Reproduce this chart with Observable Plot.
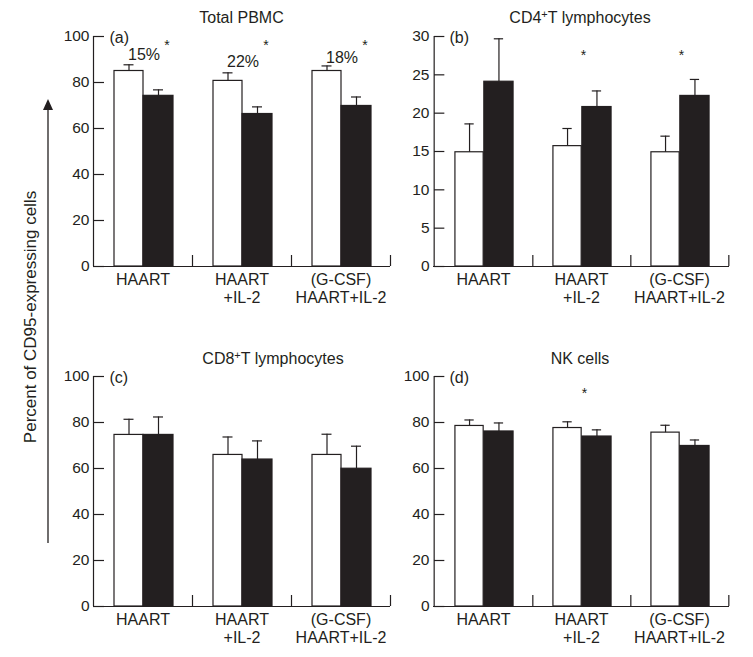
<!DOCTYPE html>
<html><head><meta charset="utf-8">
<script src="https://cdn.jsdelivr.net/npm/d3@7"></script>
<script src="https://cdn.jsdelivr.net/npm/@observablehq/plot@0.6"></script>
<style>
body{margin:0;background:#fff;overflow:hidden;font-family:"Liberation Sans",Arial,sans-serif;color:#231f20}
#root{position:relative;width:753px;height:657px;overflow:hidden}
.p{position:absolute}
.t{position:absolute;font-size:16px;white-space:nowrap;transform:translate(-50%,-50%);line-height:1}
.t sup{font-size:11px;line-height:0;vertical-align:5px}
.ylab{position:absolute;left:31px;top:317px;font-size:17px;white-space:nowrap;transform:translate(-50%,-50%) rotate(-90deg)}
</style></head>
<body><div id="root"></div>
<script>
const ink = "#231f20";
const categories = ["HAART", "HAART\n+IL-2", "(G-CSF)\nHAART+IL-2"];

// (a) Total PBMC
const pbmcWhite = [85.0, 80.7, 85.0];
const pbmcWhiteErr = [87.7, 84.2, 87.2];
const pbmcBlack = [74.2, 66.3, 69.8];
const pbmcBlackErr = [76.8, 69.4, 73.7];
const pbmcPercent = ["15%", "22%", "18%"];
const pbmcPercentY = [91.8, 88.9, 90.9];
const pbmcStarCats = ["HAART", "HAART\n+IL-2", "(G-CSF)\nHAART+IL-2"];
const pbmcStarY = [96, 96, 96];

// (b) CD4+ T lymphocytes
const cd4White = [14.9, 15.7, 14.9];
const cd4WhiteErr = [18.6, 18.0, 17.0];
const cd4Black = [24.1, 20.8, 22.25];
const cd4BlackErr = [29.7, 22.9, 24.4];
const cd4StarCats = ["HAART\n+IL-2", "(G-CSF)\nHAART+IL-2"];
const cd4StarY = [27.5, 27.5];

// (c) CD8+ T lymphocytes
const cd8White = [74.6, 65.9, 65.9];
const cd8WhiteErr = [81.4, 73.7, 74.9];
const cd8Black = [74.6, 63.9, 59.9];
const cd8BlackErr = [82.4, 72.0, 69.7];

// (d) NK cells
const nkWhite = [78.5, 77.6, 75.6];
const nkWhiteErr = [81.1, 80.3, 78.8];
const nkBlack = [76.1, 73.9, 69.8];
const nkBlackErr = [79.8, 76.8, 72.4];
const nkStarCats = ["HAART\n+IL-2"];
const nkStarY = [92.6];

const ticks100 = [0, 20, 40, 60, 80, 100];
const ticks30 = [0, 5, 10, 15, 20, 25, 30];

const root = document.getElementById("root");

function panel({left, top, width, height, mL, mR, mB, mT, ymax, yTicks, white, whiteErr, black, blackErr, tag, pct, pctY, starCats, starY, starDx}) {
  const bw = (width - mL - mR) / categories.length;
  const s = bw / 99;
  const rows = categories.map((c, i) => ({c, w: white[i], we: whiteErr[i], b: black[i], be: blackErr[i]}));
  const plotH = height - mT - mB;
  const marks = [
    Plot.barY(rows, {x: "c", y: "w", fill: "white", stroke: ink, strokeWidth: 1.2, insetLeft: 21 * s, insetRight: bw - 50 * s}),
    Plot.barY(rows, {x: "c", y: "b", fill: ink, stroke: ink, strokeWidth: 1.2, insetLeft: 50 * s, insetRight: bw - 80 * s}),
    Plot.ruleX(rows, {x: "c", y1: "w", y2: "we", dx: 35.5 * s - bw / 2, stroke: ink, strokeWidth: 1.2}),
    Plot.ruleX(rows, {x: "c", y1: "b", y2: "be", dx: 65 * s - bw / 2, stroke: ink, strokeWidth: 1.2}),
    Plot.tickY(rows, {x: "c", y: "we", insetLeft: 30.5 * s, insetRight: bw - 40.5 * s, stroke: ink, strokeWidth: 1.2}),
    Plot.tickY(rows, {x: "c", y: "be", insetLeft: 60 * s, insetRight: bw - 70 * s, stroke: ink, strokeWidth: 1.2}),
    // axis lines
    Plot.ruleY([0], {stroke: ink, strokeWidth: 1.2}),
    Plot.ruleX([categories[0]], {x: d => d, dx: -bw / 2, y1: 0, y2: ymax, stroke: ink, strokeWidth: 1.2}),
    Plot.ruleX(categories, {x: d => d, dx: bw / 2, y1: 0, y2: ymax * 11 / plotH, stroke: ink, strokeWidth: 1.2}),
    Plot.tickY(yTicks, {x: () => categories[0], y: d => d, insetRight: bw - 11, stroke: ink, strokeWidth: 1.2}),
    Plot.axisY(yTicks, {tickSize: 0, tickPadding: 4, fontSize: 15.5, fill: ink, label: null}),
    Plot.axisX({tickSize: 0, tickPadding: 6, fontSize: 16, lineHeight: 1.12, fill: ink, label: null}),
    Plot.text([tag], {frameAnchor: "top-left", dx: 16, dy: 1, textAnchor: "start", lineAnchor: "middle", fontSize: 16, fill: ink})
  ];
  if (pct) {
    marks.push(Plot.text(pct.map((t, i) => ({t, c: categories[i], y: pctY[i]})), {x: "c", y: "y", text: "t", fontSize: 16, fill: ink, dx: 1}));
  }
  if (starCats) {
    marks.push(Plot.text(starCats.map((c, i) => ({c, y: starY[i]})), {x: "c", y: "y", text: () => "*", fontSize: 14, fill: ink, dx: starDx}));
  }
  const svg = Plot.plot({
    width, height,
    marginLeft: mL, marginRight: mR, marginTop: mT, marginBottom: mB,
    x: {domain: categories, padding: 0, label: null},
    y: {domain: [0, ymax], label: null},
    style: {fontFamily: '"Liberation Sans", Arial, sans-serif', background: "transparent", overflow: "visible", color: ink},
    marks
  });
  svg.classList.add("p");
  svg.style.left = left + "px";
  svg.style.top = top + "px";
  root.appendChild(svg);
}

panel({left: 40, top: 0, width: 355, height: 320, mL: 53, mR: 5, mT: 36, mB: 54, ymax: 100, yTicks: ticks100,
  white: pbmcWhite, whiteErr: pbmcWhiteErr, black: pbmcBlack, blackErr: pbmcBlackErr, tag: "(a)",
  pct: pbmcPercent, pctY: pbmcPercentY, starCats: pbmcStarCats, starY: pbmcStarY, starDx: 24});
panel({left: 395, top: 0, width: 340, height: 320, mL: 38, mR: 6, mT: 36, mB: 54, ymax: 30, yTicks: ticks30,
  white: cd4White, whiteErr: cd4WhiteErr, black: cd4Black, blackErr: cd4BlackErr, tag: "(b)",
  starCats: cd4StarCats, starY: cd4StarY, starDx: 2});
panel({left: 40, top: 340, width: 355, height: 310, mL: 53, mR: 5, mT: 36, mB: 44, ymax: 100, yTicks: ticks100,
  white: cd8White, whiteErr: cd8WhiteErr, black: cd8Black, blackErr: cd8BlackErr, tag: "(c)"});
panel({left: 395, top: 340, width: 340, height: 310, mL: 38, mR: 6, mT: 36, mB: 44, ymax: 100, yTicks: ticks100,
  white: nkWhite, whiteErr: nkWhiteErr, black: nkBlack, blackErr: nkBlackErr, tag: "(d)",
  starCats: nkStarCats, starY: nkStarY, starDx: 3});

// titles
const titles = [
  {html: "Total PBMC", x: 241.5, y: 18},
  {html: "CD4<sup>+</sup>T lymphocytes", x: 580, y: 18},
  {html: "CD8<sup>+</sup>T lymphocytes", x: 273, y: 359},
  {html: "NK cells", x: 580, y: 359}
];
for (const t of titles) {
  const d = document.createElement("div");
  d.className = "t";
  d.innerHTML = t.html;
  d.style.left = t.x + "px";
  d.style.top = t.y + "px";
  root.appendChild(d);
}
const yl = document.createElement("div");
yl.className = "ylab";
yl.textContent = "Percent of CD95-expressing cells";
root.appendChild(yl);

const ns = "http://www.w3.org/2000/svg";
const arrow = document.createElementNS(ns, "svg");
arrow.setAttribute("width", "20");
arrow.setAttribute("height", "460");
arrow.style.position = "absolute";
arrow.style.left = "38px";
arrow.style.top = "95px";
arrow.innerHTML = `<line x1="10" y1="12" x2="10" y2="448" stroke="${ink}" stroke-width="1.3"/><path d="M5,15 L10,4 L15,15 Z" fill="${ink}"/>`;
root.appendChild(arrow);
</script>
</body></html>
